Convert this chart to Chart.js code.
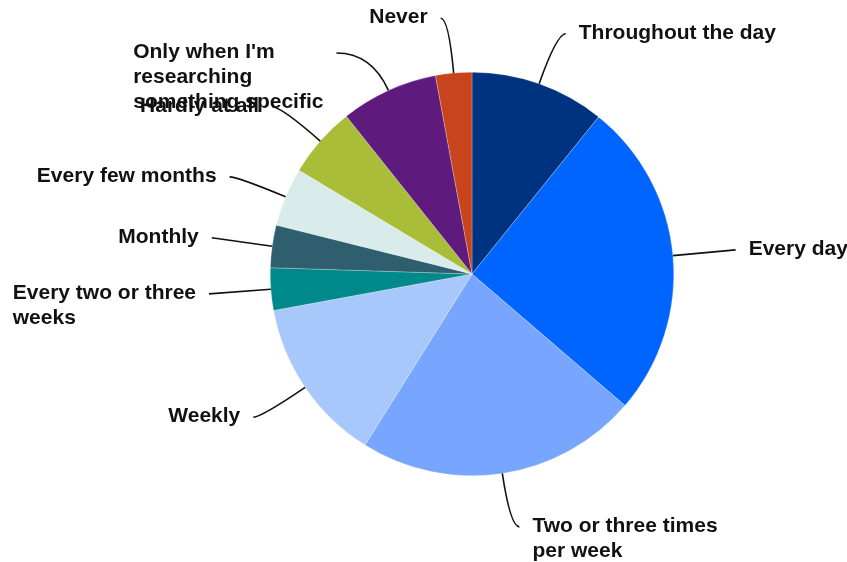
<!DOCTYPE html>
<html>
<head>
<meta charset="utf-8">
<script src="https://cdn.jsdelivr.net/npm/chart.js@4/dist/chart.umd.min.js"></script>
<style>
  html, body { margin: 0; padding: 0; background: #fff; }
  #wrap { width: 847px; height: 562px; position: relative; }
</style>
</head>
<body>
<div id="wrap"><canvas id="pie"></canvas></div>
<script>
// --- DATA ---
const categories = [
    'Throughout the day',
    'Every day',
    ['Two or three times', 'per week'],
    'Weekly',
    ['Every two or three', 'weeks'],
    'Monthly',
    'Every few months',
    'Hardly at all',
    ["Only when I'm", 'researching', 'something specific'],
    'Never'
];
const shares = [10.8, 25.5, 22.6, 13.2, 3.4, 3.4, 4.7, 5.7, 7.8, 2.9];
const sliceColors = ['#00337f', '#0064ff', '#78a6ff', '#a8c7fb', '#00898a', '#2f5f6e', '#d9eceb', '#a9bd38', '#5f1a7d', '#c8441d'];

// leader line shape per label: radial reach past the rim, then a short flat tail
const leaderReach = [53, 63, 54, 53, 62, 61, 52, 52, 41, 55];
const leaderTail = [9, 0, 9, 8, 0, 0, 8, 9, 35, 8];

const FONT = 'bold 21px "Liberation Sans", Arial, sans-serif';
const LINE_H = 25;
const GAP = 13;

// --- LABEL PLUGIN ---
const outsideLabels = {
    id: 'outsideLabels',
    afterDatasetsDraw(chart) {
        const ctx = chart.ctx;
        const meta = chart.getDatasetMeta(0);
        ctx.save();
        ctx.font = FONT;
        ctx.fillStyle = '#111';
        ctx.strokeStyle = '#111';
        ctx.lineWidth = 1.6;
        ctx.textBaseline = 'middle';
        meta.data.forEach((arc, i) => {
            const p = arc.getProps(['x', 'y', 'startAngle', 'endAngle', 'outerRadius'], true);
            const mid = (p.startAngle + p.endAngle) / 2;
            const cos = Math.cos(mid), sin = Math.sin(mid);
            const sx = p.x + cos * p.outerRadius;
            const sy = p.y + sin * p.outerRadius;
            const ex = p.x + cos * (p.outerRadius + leaderReach[i]);
            const ey = p.y + sin * (p.outerRadius + leaderReach[i]);
            const right = cos >= 0;
            const tx = ex + (right ? leaderTail[i] : -leaderTail[i]);

            ctx.beginPath();
            ctx.moveTo(sx, sy);
            ctx.quadraticCurveTo(ex, ey, tx, ey);
            ctx.stroke();

            const lines = Array.isArray(categories[i]) ? categories[i] : [categories[i]];
            const maxW = Math.max(...lines.map(l => ctx.measureText(l).width));
            const left = right ? tx + GAP : tx - GAP - maxW;
            ctx.textAlign = 'left';
            lines.forEach((l, k) => {
                ctx.fillText(l, left, ey - 1 + k * LINE_H);
            });
        });
        ctx.restore();
    }
};

// --- CHART ---
new Chart(document.getElementById('pie'), {
    type: 'pie',
    data: {
        labels: categories,
        datasets: [{
            data: shares,
            backgroundColor: sliceColors,
            borderColor: 'rgba(255,255,255,0.5)',
            borderWidth: 0.5
        }]
    },
    options: {
        responsive: true,
        maintainAspectRatio: false,
        animation: false,
        layout: { padding: { top: 72, bottom: 86, left: 270, right: 173 } },
        plugins: {
            legend: { display: false },
            tooltip: { enabled: false }
        }
    },
    plugins: [outsideLabels]
});
</script>
</body>
</html>
